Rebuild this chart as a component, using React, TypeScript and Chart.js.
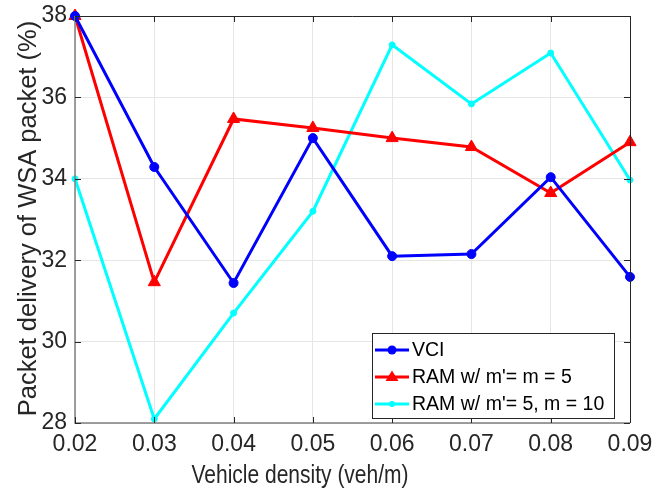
import React, { useEffect, useRef } from "react";
import { Chart, registerables } from "chart.js";
Chart.register(...registerables);

const densities = [0.02, 0.03, 0.04, 0.05, 0.06, 0.07, 0.08, 0.09];
const vci = [38.0, 34.29, 31.44, 35.0, 32.1, 32.15, 34.04, 31.59];
const ramM5 = [38.0, 31.46, 35.47, 35.25, 35.0, 34.78, 33.65, 34.9];
const ramM10 = [34.0, 28.1, 30.7, 33.2, 37.29, 35.84, 37.09, 33.97];
const seriesNames = ["VCI", "RAM w/ m'= m = 5", "RAM w/ m'= 5, m = 10"];
const xTicks = [0.02, 0.03, 0.04, 0.05, 0.06, 0.07, 0.08, 0.09];
const yTicks = [28, 30, 32, 34, 36, 38];
const xTitle = "Vehicle density (veh/m)";
const yTitle = "Packet delivery of WSA packet (%)";

const FONT = "Arial, 'Liberation Sans', sans-serif";
const TXT = "#262626";

export default function App() {
  const ref = useRef<HTMLCanvasElement>(null);
  useEffect(() => {
    document.body.style.margin = "0";
    const styles = [
      { color: "#0000ff", style: "circle", radius: 4.5 },
      { color: "#ff0000", style: "triangle", radius: 7 },
      { color: "#00ffff", style: "circle", radius: 3 },
    ];
    const datasets = [vci, ramM5, ramM10].map((vals, i) => ({
      label: seriesNames[i],
      data: vals.map((v, j) => ({ x: densities[j], y: v })),
      borderColor: styles[i].color,
      backgroundColor: styles[i].color,
      borderWidth: 3,
      pointStyle: styles[i].style as any,
      pointRadius: styles[i].radius,
      pointBorderWidth: 1,
      tension: 0,
      clip: false as any,
    }));

    const frame = {
      id: "frame",
      afterDraw(chart: any) {
        const { ctx, chartArea: a } = chart;
        ctx.save();
        // box
        ctx.strokeStyle = "#262626";
        ctx.lineWidth = 1;
        ctx.beginPath();
        ctx.moveTo(a.left, a.top + 0.5);
        ctx.lineTo(a.right + 0.5, a.top + 0.5);
        ctx.lineTo(a.right + 0.5, a.bottom);
        ctx.stroke();
        ctx.strokeStyle = "#808080";
        ctx.lineWidth = 1.5;
        ctx.beginPath();
        ctx.moveTo(a.left, a.top);
        ctx.lineTo(a.left, a.bottom);
        ctx.lineTo(a.right, a.bottom);
        ctx.stroke();
        // inward ticks
        const xs = chart.scales.x, ys = chart.scales.y;
        ctx.strokeStyle = "#262626";
        ctx.lineWidth = 1;
        ctx.beginPath();
        xTicks.forEach((t) => {
          const px = Math.round(xs.getPixelForValue(t)) + 0.5;
          ctx.moveTo(px, a.bottom); ctx.lineTo(px, a.bottom - 6);
          ctx.moveTo(px, a.top); ctx.lineTo(px, a.top + 6);
        });
        yTicks.forEach((t) => {
          const py = Math.round(ys.getPixelForValue(t)) + 0.5;
          ctx.moveTo(a.left, py); ctx.lineTo(a.left + 6, py);
          ctx.moveTo(a.right, py); ctx.lineTo(a.right - 6, py);
        });
        ctx.stroke();

        // axis titles
        ctx.fillStyle = TXT;
        ctx.textAlign = "center";
        ctx.textBaseline = "alphabetic";
        ctx.font = `25px ${FONT}`;
        ctx.save();
        ctx.translate(300, 483);
        ctx.scale(0.84, 1);
        ctx.fillText(xTitle, 0, 0);
        ctx.restore();
        ctx.save();
        ctx.translate(36, (a.top + a.bottom) / 2 - 1);
        ctx.rotate(-Math.PI / 2);
        ctx.font = `25.5px ${FONT}`;
        ctx.fillText(yTitle, 0, 0);
        ctx.restore();

        // legend
        const bx = 372, by = 333, bw = 242, bh = 85;
        ctx.fillStyle = "#ffffff";
        ctx.fillRect(bx, by, bw, bh);
        ctx.strokeStyle = "#262626";
        ctx.lineWidth = 1;
        ctx.strokeRect(bx + 0.5, by + 0.5, bw, bh);
        ctx.font = `19.5px ${FONT}`;
        ctx.textAlign = "left";
        ctx.textBaseline = "middle";
        seriesNames.forEach((name, i) => {
          const cy = by + 17 + i * 27;
          const s = styles[i];
          ctx.strokeStyle = s.color;
          ctx.fillStyle = s.color;
          ctx.lineWidth = 3;
          ctx.beginPath();
          ctx.moveTo(bx + 3, cy); ctx.lineTo(bx + 37, cy);
          ctx.stroke();
          ctx.beginPath();
          if (s.style === "triangle") {
            const r = 6.5;
            ctx.moveTo(bx + 20, cy - r);
            ctx.lineTo(bx + 20 + r, cy + r * 0.6);
            ctx.lineTo(bx + 20 - r, cy + r * 0.6);
            ctx.closePath();
          } else {
            ctx.arc(bx + 20, cy, s.radius, 0, Math.PI * 2);
          }
          ctx.fill();
          ctx.fillStyle = "#000000";
          ctx.fillText(name, bx + 40, cy + 1);
        });
        ctx.restore();
      },
    };

    const chart = new Chart(ref.current!, {
      type: "line",
      data: { datasets },
      options: {
        animation: false,
        responsive: false,
        maintainAspectRatio: false,
        layout: { autoPadding: false, padding: { left: 0, top: 16, right: 23, bottom: 0 } },
        plugins: { legend: { display: false }, tooltip: { enabled: false } },
        scales: {
          x: {
            type: "linear",
            min: 0.02,
            max: 0.09,
            afterBuildTicks: (s: any) => { s.ticks = xTicks.map((v) => ({ value: v })); },
            afterFit: (s: any) => { s.height = 67; s.paddingLeft = 0; s.paddingRight = 0; },
            grid: { color: "#e6e6e6", drawTicks: false, lineWidth: 1 },
            border: { display: false },
            ticks: {
              padding: 8,
              color: TXT,
              font: { family: FONT, size: 23 },
              maxRotation: 0,
              callback: (v: any) => Number(v).toFixed(2),
            },
            title: { display: false },
          },
          y: {
            min: 28,
            max: 38,
            afterBuildTicks: (s: any) => { s.ticks = yTicks.map((v) => ({ value: v })); },
            afterFit: (s: any) => { s.width = 75; s.paddingTop = 0; s.paddingBottom = 0; },
            grid: { color: "#e6e6e6", drawTicks: false, lineWidth: 1 },
            border: { display: false },
            ticks: {
              padding: 8,
              color: TXT,
              font: { family: FONT, size: 23 },
              callback: (v: any) => String(v),
            },
            title: { display: false },
          },
        },
      },
      plugins: [frame],
    } as any);
    return () => chart.destroy();
  }, []);
  return (
    <div style={{ width: 653, height: 490 }}>
      <canvas ref={ref} width={653} height={490} style={{ display: "block" }} />
    </div>
  );
}
